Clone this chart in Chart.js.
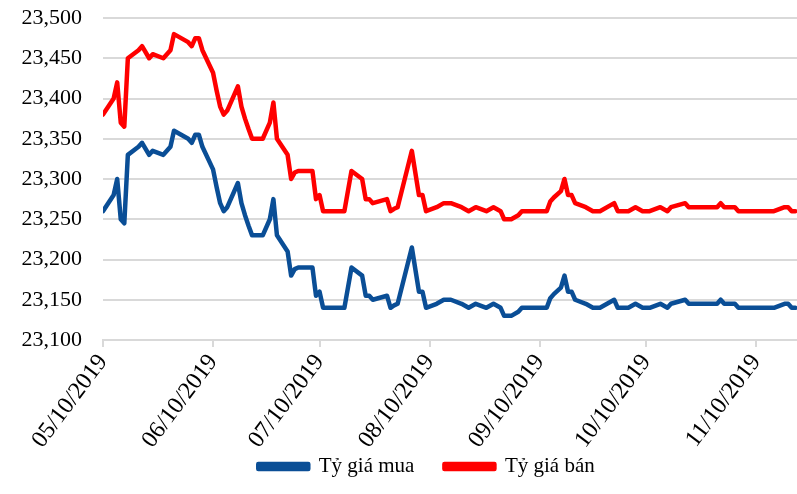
<!DOCTYPE html>
<html>
<head>
<meta charset="utf-8">
<script src="https://cdn.jsdelivr.net/npm/chart.js@4/dist/chart.umd.min.js"></script>
<style>
  html, body { margin: 0; padding: 0; background: #fff; }
  #wrap { width: 797px; height: 494px; }
</style>
</head>
<body>
<div id="wrap"><canvas id="chart"></canvas></div>
<script>
// dates of the points (year-month-day)
const dates = [
  "2019-05-10", "2019-05-13", "2019-05-14", "2019-05-15", "2019-05-16", "2019-05-17",
  "2019-05-20", "2019-05-21", "2019-05-23", "2019-05-24", "2019-05-27", "2019-05-29",
  "2019-05-30", "2019-06-01", "2019-06-03", "2019-06-04", "2019-06-05", "2019-06-06",
  "2019-06-07", "2019-06-10", "2019-06-11", "2019-06-12", "2019-06-13", "2019-06-14",
  "2019-06-17", "2019-06-18", "2019-06-19", "2019-06-20", "2019-06-21", "2019-06-24",
  "2019-06-26", "2019-06-27", "2019-06-28", "2019-07-01", "2019-07-02", "2019-07-03",
  "2019-07-04", "2019-07-08", "2019-07-09", "2019-07-10", "2019-07-11", "2019-07-17",
  "2019-07-19", "2019-07-22", "2019-07-23", "2019-07-24", "2019-07-25", "2019-07-29",
  "2019-07-30", "2019-07-31", "2019-08-01", "2019-08-05", "2019-08-07", "2019-08-08",
  "2019-08-09", "2019-08-12", "2019-08-14", "2019-08-16", "2019-08-19", "2019-08-21",
  "2019-08-23", "2019-08-26", "2019-08-28", "2019-08-30", "2019-08-31", "2019-09-02",
  "2019-09-04", "2019-09-05", "2019-09-12", "2019-09-13", "2019-09-14", "2019-09-16",
  "2019-09-17", "2019-09-18", "2019-09-19", "2019-09-20", "2019-09-23", "2019-09-25",
  "2019-09-27", "2019-10-01", "2019-10-02", "2019-10-05", "2019-10-07", "2019-10-09",
  "2019-10-11", "2019-10-14", "2019-10-16", "2019-10-17", "2019-10-21", "2019-10-22",
  "2019-10-30", "2019-10-31", "2019-11-01", "2019-11-04", "2019-11-05", "2019-11-15",
  "2019-11-18", "2019-11-19", "2019-11-20", "2019-11-21"
];

// Tỷ giá mua
const buy = [
  23260, 23280, 23300, 23250, 23245, 23330,
  23340, 23345, 23330, 23335, 23330, 23340,
  23360, 23355, 23350, 23345, 23355, 23355,
  23340, 23312, 23290, 23270, 23260, 23265,
  23295, 23270, 23255, 23242, 23230, 23230,
  23250, 23275, 23230, 23210, 23180, 23188,
  23190, 23190, 23155, 23160, 23140, 23140,
  23190, 23180, 23155, 23155, 23150, 23155,
  23140, 23143, 23145, 23215, 23160, 23160,
  23140, 23145, 23150, 23150, 23145, 23140,
  23145, 23140, 23145, 23140, 23130, 23130,
  23135, 23140, 23140, 23152, 23157, 23165,
  23180, 23160, 23160, 23150, 23145, 23140,
  23140, 23150, 23140, 23140, 23145, 23140,
  23140, 23145, 23140, 23145, 23150, 23145,
  23145, 23150, 23145, 23145, 23140, 23140,
  23145, 23145, 23140, 23140
];

// Tỷ giá bán
const sell = [
  23380, 23400, 23420, 23370, 23365, 23450,
  23460, 23465, 23450, 23455, 23450, 23460,
  23480, 23475, 23470, 23465, 23475, 23475,
  23460, 23432, 23410, 23390, 23380, 23385,
  23415, 23390, 23375, 23362, 23350, 23350,
  23370, 23395, 23350, 23330, 23300, 23308,
  23310, 23310, 23275, 23280, 23260, 23260,
  23310, 23300, 23275, 23275, 23270, 23275,
  23260, 23263, 23265, 23335, 23280, 23280,
  23260, 23265, 23270, 23270, 23265, 23260,
  23265, 23260, 23265, 23260, 23250, 23250,
  23255, 23260, 23260, 23272, 23277, 23285,
  23300, 23280, 23280, 23270, 23265, 23260,
  23260, 23270, 23260, 23260, 23265, 23260,
  23260, 23265, 23260, 23265, 23270, 23265,
  23265, 23270, 23265, 23265, 23260, 23260,
  23265, 23265, 23260, 23260
];

const tickLabels = ["05/10/2019", "06/10/2019", "07/10/2019", "08/10/2019",
                    "09/10/2019", "10/10/2019", "11/10/2019"];

const start = Date.UTC(2019, 4, 10);
function dayOf(iso) {
  const p = iso.split("-").map(Number);
  return (Date.UTC(p[0], p[1] - 1, p[2]) - start) / 86400000;
}
function dayOfLabel(s) {
  const p = s.split("/").map(Number);
  return (Date.UTC(p[2], p[0] - 1, p[1]) - start) / 86400000;
}

const serif = "'Liberation Serif', 'Times New Roman', serif";
const gridColor = "#d9d9d9";

// legend in the original sits a bit right of centre;
// the date labels hang down past the axis box, so let them show
const tweakLayout = {
  id: "tweakLayout",
  afterLayout(chart) {
    if (chart.legend) chart.legend.left += 56;
    chart.scales.x.bottom += 40;
  }
};

new Chart(document.getElementById("chart"), {
  type: "line",
  data: {
    datasets: [
      {
        label: "Tỷ giá mua",
        data: dates.map((d, i) => ({ x: dayOf(d), y: buy[i] })),
        borderColor: "#0a4e96",
        backgroundColor: "#0a4e96",
        borderWidth: 4.5,
        pointRadius: 0,
        tension: 0,
        borderJoinStyle: "round",
        borderCapStyle: "round"
      },
      {
        label: "Tỷ giá bán",
        data: dates.map((d, i) => ({ x: dayOf(d), y: sell[i] })),
        borderColor: "#ff0000",
        backgroundColor: "#ff0000",
        borderWidth: 4.5,
        pointRadius: 0,
        tension: 0,
        borderJoinStyle: "round",
        borderCapStyle: "round"
      }
    ]
  },
  plugins: [tweakLayout],
  options: {
    responsive: true,
    maintainAspectRatio: false,
    animation: false,
    layout: { padding: { top: 18, right: 0, left: 0, bottom: 7 } },
    plugins: {
      tooltip: { enabled: false },
      legend: {
        position: "bottom",
        labels: {
          color: "#000",
          font: { family: serif, size: 21 },
          boxWidth: 50,
          boxHeight: 5,
          padding: 30
        }
      }
    },
    scales: {
      x: {
        type: "linear",
        min: 0,
        max: 195.5,
        afterBuildTicks: (scale) => {
          scale.ticks = tickLabels.map((t) => ({ value: dayOfLabel(t) }));
        },
        afterFit: (scale) => {
          scale.height = 86;
          scale.paddingLeft = 0;
          scale.paddingRight = 0;
        },
        ticks: {
          autoSkip: false,
          maxRotation: 53,
          minRotation: 53,
          color: "#000",
          font: { family: serif, size: 24 },
          padding: 2,
          callback: (v, i) => tickLabels[i]
        },
        grid: {
          drawOnChartArea: false,
          drawTicks: true,
          tickLength: 7,
          color: gridColor,
          lineWidth: 2
        },
        border: { display: true, color: gridColor, width: 2 }
      },
      y: {
        min: 23100,
        max: 23500,
        afterFit: (scale) => {
          scale.width = 103;
          scale.paddingTop = 0;
          scale.paddingBottom = 0;
        },
        ticks: {
          stepSize: 50,
          color: "#000",
          font: { family: serif, size: 22 },
          padding: 21,
          callback: (v) => v.toLocaleString("en-US")
        },
        grid: {
          color: gridColor,
          lineWidth: 2,
          drawTicks: false
        },
        border: { display: false }
      }
    }
  }
});
</script>
</body>
</html>
